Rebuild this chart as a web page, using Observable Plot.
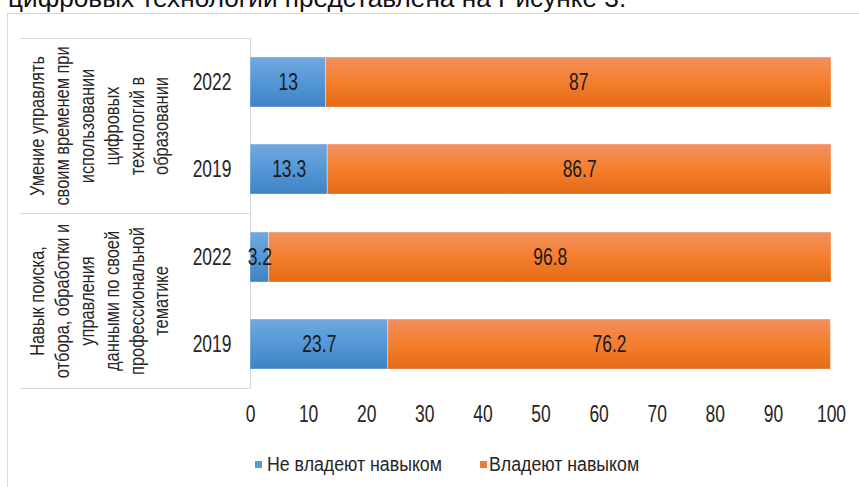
<!DOCTYPE html>
<html>
<head>
<meta charset="utf-8">
<script src="https://cdn.jsdelivr.net/npm/d3@7"></script>
<script src="https://cdn.jsdelivr.net/npm/@observablehq/plot@0.6"></script>
<style>
  html, body { margin: 0; padding: 0; background: #fff; width: 859px; height: 487px; overflow: hidden; }
  #page { position: relative; width: 859px; height: 487px; overflow: hidden; }
  #topline { position: absolute; left: 8px; top: -17px; font-family: "Liberation Sans", Arial, sans-serif; font-size: 26.2px; color: #111; white-space: nowrap; }
  #box { position: absolute; left: 7px; top: 13px; width: 900px; height: 520px; border: 1px solid #d9d9d9; box-sizing: border-box; background: #fff; }
  #chart { position: absolute; left: 0; top: 0; }
  .leg { position: absolute; font-family: "Liberation Sans", Arial, sans-serif; font-size: 19.5px; color: #262626; white-space: nowrap; }
  .leg .txt { display: inline-block; transform: scaleX(0.91); transform-origin: left center; }
  .sw { position: absolute; width: 7px; height: 7px; }
</style>
</head>
<body>
<div id="page">
  <div id="topline">цифровых технологий представлена на Рисунке 3.</div>
  <div id="box"></div>
  <div id="chart"></div>
  <div id="legend"></div>
</div>
<script>
const FONT = '"Liberation Sans", Arial, sans-serif';

// ---- data ----
const groups = [
  "Умение управлять своим временем при использовании цифровых технологий в образовании",
  "Навык поиска, отбора, обработки и управления данными по своей профессиональной тематике"
];
const groupLines = [
  ["Умение управлять", "своим временем при", "использовании", "цифровых", "технологий в", "образовании"],
  ["Навык поиска,", "отбора, обработки и", "управления", "данными по своей", "профессиональной", "тематике"]
];
const years = ["2022", "2019"];
const series = ["Не владеют навыком", "Владеют навыком"];
// order: group1-2022, group1-2019, group2-2022, group2-2019
const notSkilled = [13, 13.3, 3.2, 23.7];
const skilled = [87, 86.7, 96.8, 76.2];
const xTicks = [0, 10, 20, 30, 40, 50, 60, 70, 80, 90, 100];
const legendColors = ["#5b9bd5", "#ed7d31"];

// ---- table ----
const rows = [];
groups.forEach((g, gi) => {
  years.forEach((y, yi) => {
    const k = gi * 2 + yi;
    rows.push({group: g, year: y, series: series[0], value: notSkilled[k]});
    rows.push({group: g, year: y, series: series[1], value: skilled[k]});
  });
});
const labelOf = new Map(groups.map((g, i) => [g, groupLines[i].join("\n")]));

const W = 859, H = 430, ML = 250, MR = 28, MT = 38, MB = 42;
const plotW = W - ML - MR;

const chart = Plot.plot({
  width: W, height: H,
  marginLeft: ML, marginRight: MR, marginTop: MT, marginBottom: MB,
  style: {background: "transparent", fontFamily: FONT, color: "#262626", overflow: "visible"},
  x: {domain: [0, 100], axis: null},
  y: {domain: years, paddingInner: 0.43, paddingOuter: 0.215, axis: null},
  fy: {domain: groups, padding: 0, axis: null},
  color: {domain: series, range: ["url(#gradBlue)", "url(#gradOrange)"]},
  marks: [
    Plot.frame({anchor: "top", stroke: "#d9d9d9", insetLeft: -230, insetRight: plotW}),
    Plot.frame({anchor: "bottom", stroke: "#d9d9d9", insetLeft: -230, insetRight: plotW}),
    Plot.ruleX([0], {stroke: "#d9d9d9"}),
    Plot.barX(rows, Plot.stackX({x: "value", y: "year", fy: "group", fill: "series", stroke: "#ffffff", strokeOpacity: 0.35, strokeWidth: 1})),
    Plot.text(rows, Plot.stackX({x: "value", y: "year", fy: "group", z: "series", text: d => String(d.value), fill: "#1a1a1a", fontSize: 23, fontFamily: FONT, className: "narrow"})),
    Plot.axisY({tickSize: 0, tickPadding: 19, fontSize: 23, label: null, fill: "#262626", className: "narrow"}),
    Plot.axisX({ticks: xTicks, tickSize: 0, tickPadding: 17, fontSize: 23, label: null, fill: "#262626", className: "narrow"}),
    Plot.axisFy({anchor: "left", tickSize: 0, tickPadding: 0, dx: -152, tickRotate: -90, textAnchor: "middle", lineAnchor: "middle", lineHeight: 1.18, fontSize: 21, label: null, tickFormat: g => labelOf.get(g), fill: "#262626", className: "narrowfy"})
  ]
});

// gradients for bar fills
const svg = d3.select(chart);
const defs = svg.insert("defs", ":first-child");
function grad(id, stops) {
  const lg = defs.append("linearGradient").attr("id", id).attr("x1", 0).attr("y1", 0).attr("x2", 0).attr("y2", 1);
  stops.forEach(([o, c]) => lg.append("stop").attr("offset", o).attr("stop-color", c));
}
grad("gradBlue", [[0, "#72a9de"], [0.5, "#5497d6"], [1, "#3f83c4"]]);
grad("gradOrange", [[0, "#f29060"], [0.5, "#f47f2c"], [1, "#e46a17"]]);

// condense chart text horizontally (Arial Narrow look); y offsets (em) stay untouched
function condense(sel, s) {
  sel.each(function() {
    const t = d3.select(this);
    let tr = t.attr("transform") || "";
    const xa = t.attr("x");
    if (xa != null && /^-?[\d.]+$/.test(xa)) {
      tr += ` translate(${+xa},0)`;
      t.attr("x", null);
    }
    t.attr("transform", (tr + ` scale(${s},1)`).trim());
  });
}
condense(svg.selectAll(".narrow text"), 0.76);
condense(svg.selectAll(".narrowfy text"), 0.78);

document.getElementById("chart").appendChild(chart);

// legend
const leg = document.getElementById("legend");
const legPos = [[255, 267], [480, 489]];
series.forEach((s, i) => {
  const sw = document.createElement("div");
  sw.className = "sw";
  sw.style.background = legendColors[i];
  sw.style.left = legPos[i][0] + "px";
  sw.style.top = "461px";
  leg.appendChild(sw);
  const tx = document.createElement("div");
  tx.className = "leg";
  tx.style.left = legPos[i][1] + "px";
  tx.style.top = "453px";
  const sp = document.createElement("span");
  sp.className = "txt";
  sp.textContent = s;
  tx.appendChild(sp);
  leg.appendChild(tx);
});
</script>
</body>
</html>
